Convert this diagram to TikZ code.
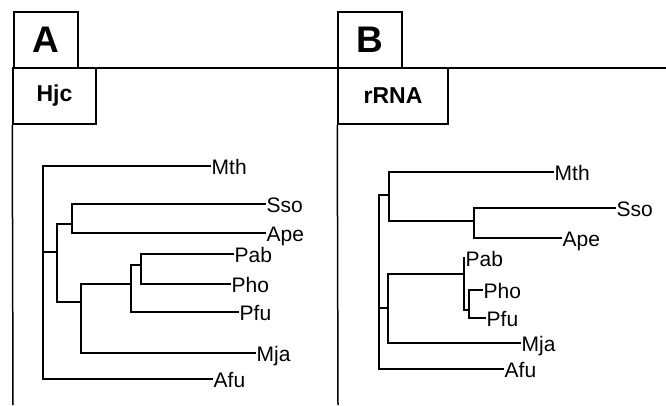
\documentclass[tikz,border=0pt]{standalone}
\usepackage{fontspec}
\setmainfont{Liberation Sans}
\begin{document}
\begin{tikzpicture}[x=1pt,y=-1pt,
  frame/.style={line width=1.5pt},
  bigbox/.style={draw,line width=1.5pt,minimum width=64pt,minimum height=56pt,inner sep=0pt,
    font=\fontsize{37}{37}\selectfont\bfseries},
  titlebox/.style={draw,line width=1.5pt,minimum height=56pt,inner sep=0pt,
    font=\fontsize{23}{23}\selectfont\bfseries},
  branch/.style={line width=1.5pt,line cap=rect},
  leaf/.style={anchor=west,inner xsep=1.5pt,inner ysep=0pt,text height=17pt,text depth=0pt,
    font=\fontsize{21}{23}\selectfont}]
\useasboundingbox (0,0) rectangle (666,405);
% frames
\node[bigbox] (A) at (46,40) {A};
\node[bigbox] (B) at (370,40) {B};
\node[titlebox,minimum width=83pt] (Hjc) at (54.5,96) {Hjc};
\node[titlebox,minimum width=110pt] (rRNA) at (393,96) {rRNA};
\coordinate (topL) at (13,68);
\coordinate (topR) at (666,68);
\coordinate (botL) at (13,405);
\coordinate (botB) at (338,405);
\draw[frame] (topL) -- (topR);
\draw[frame] (Hjc.south west) -- (botL);
\draw[frame] (rRNA.south west) -- (botB);
% ---------- tree A ----------
\node[leaf] (aMth) at (210,166) {Mth};
\node[leaf] (aSso) at (265,204) {Sso};
\node[leaf] (aApe) at (265,233) {Ape};
\node[leaf] (aPab) at (233,254) {Pab};
\node[leaf] (aPho) at (230,284) {Pho};
\node[leaf] (aPfu) at (238,312) {Pfu};
\node[leaf] (aMja) at (255,353) {Mja};
\node[leaf] (aAfu) at (212,379) {Afu};
\coordinate (a0) at (43,252);
\coordinate (a1) at (57,252);
\coordinate (a2) at (72,224);
\coordinate (a3) at (81,302);
\coordinate (a4) at (131,284);
\coordinate (a5) at (141,265);
\draw[branch] (a0) |- (aMth.west);
\draw[branch] (a0) |- (aAfu.west);
\draw[branch] (a0) -- (a1);
\draw[branch] (a1) |- (a2);
\draw[branch] (a1) |- (a3);
\draw[branch] (a2) |- (aSso.west);
\draw[branch] (a2) |- (aApe.west);
\draw[branch] (a3) |- (a4);
\draw[branch] (a3) |- (aMja.west);
\draw[branch] (a4) |- (a5);
\draw[branch] (a4) |- (aPfu.west);
\draw[branch] (a5) |- (aPab.west);
\draw[branch] (a5) |- (aPho.west);
% ---------- tree B ----------
\node[leaf] (bMth) at (553,172) {Mth};
\node[leaf] (bSso) at (615,208) {Sso};
\node[leaf] (bApe) at (561,238) {Ape};
\node[leaf] (bPab) at (464,258) {Pab};
\node[leaf] (bPho) at (482,290) {Pho};
\node[leaf] (bPfu) at (485,318) {Pfu};
\node[leaf] (bMja) at (520,343) {Mja};
\node[leaf] (bAfu) at (503,369) {Afu};
\coordinate (b0) at (379,250);
\coordinate (b1) at (389,195);
\coordinate (b2) at (474,221);
\coordinate (b3) at (388,308);
\coordinate (b4) at (464,274);
\coordinate (b5) at (469,310);
\draw[branch] (b0) |- (b1);
\draw[branch] (b0) |- (b3);
\draw[branch] (b0) |- (bAfu.west);
\draw[branch] (b1) |- (bMth.west);
\draw[branch] (b1) |- (b2);
\draw[branch] (b2) |- (bSso.west);
\draw[branch] (b2) |- (bApe.west);
\draw[branch] (b3) |- (b4);
\draw[branch] (b3) |- (bMja.west);
\draw[branch] (b4) |- (bPab.west);
\draw[branch] (b4) |- (b5);
\draw[branch] (b5) |- (bPho.west);
\draw[branch] (b5) |- (bPfu.west);
\end{tikzpicture}
\end{document}
